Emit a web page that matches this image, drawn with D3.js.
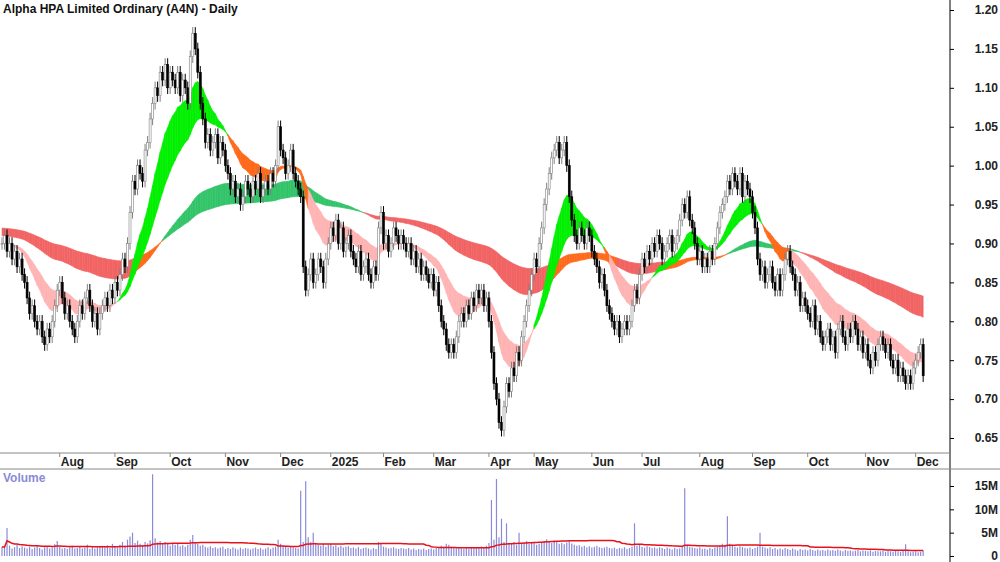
<!DOCTYPE html>
<html><head><meta charset="utf-8">
<script src="https://cdn.jsdelivr.net/npm/d3@7"></script>
<style>body{margin:0;background:#fff}svg{display:block;font-family:Arial,"Liberation Sans",sans-serif}</style>
</head><body><svg id="c" width="1000" height="562"></svg>
<script>
// daily closes (A4N)
const closes = [
0.90,0.91,0.89,0.90,0.88,0.89,0.87,0.88,0.86,0.85,
0.83,0.81,0.82,0.80,0.79,0.80,0.78,0.77,0.79,0.78,
0.80,0.82,0.84,0.85,0.83,0.81,0.82,0.80,0.79,0.78,
0.80,0.82,0.81,0.83,0.84,0.82,0.80,0.81,0.79,0.81,
0.82,0.83,0.82,0.84,0.83,0.85,0.84,0.86,0.88,0.87,
0.90,0.94,0.98,0.97,1.00,0.99,0.98,1.02,1.03,1.06,
1.08,1.10,1.09,1.12,1.11,1.13,1.10,1.12,1.11,1.10,
1.12,1.09,1.11,1.10,1.08,1.14,1.17,1.15,1.12,1.08,
1.06,1.03,1.04,1.02,1.03,1.04,1.01,1.03,1.02,1.00,
0.99,0.97,0.98,0.96,0.97,0.95,0.96,0.98,0.97,0.96,
0.98,0.97,0.99,0.96,0.97,0.98,0.97,0.99,0.98,1.00,
1.05,1.02,1.01,0.99,1.00,1.02,0.99,0.98,0.97,0.96,
0.87,0.84,0.86,0.88,0.85,0.86,0.88,0.87,0.85,0.88,
0.90,0.92,0.91,0.93,0.90,0.92,0.89,0.90,0.91,0.89,
0.88,0.87,0.89,0.86,0.87,0.88,0.86,0.85,0.87,0.86,
0.92,0.94,0.90,0.91,0.89,0.90,0.92,0.91,0.90,0.91,
0.90,0.89,0.90,0.88,0.89,0.87,0.88,0.86,0.87,0.86,
0.85,0.86,0.84,0.85,0.82,0.80,0.79,0.77,0.76,0.77,
0.76,0.78,0.80,0.81,0.80,0.82,0.81,0.83,0.82,0.84,
0.83,0.84,0.82,0.83,0.80,0.76,0.72,0.70,0.67,0.66,
0.69,0.72,0.71,0.74,0.73,0.76,0.75,0.78,0.80,0.82,
0.84,0.86,0.88,0.87,0.90,0.92,0.95,0.97,0.99,1.01,
1.02,1.03,1.01,1.02,1.03,1.00,0.96,0.93,0.91,0.90,
0.92,0.91,0.90,0.92,0.91,0.89,0.88,0.87,0.85,0.86,
0.84,0.82,0.81,0.80,0.79,0.80,0.78,0.79,0.80,0.79,
0.80,0.82,0.84,0.83,0.86,0.88,0.87,0.89,0.88,0.90,
0.89,0.91,0.90,0.88,0.89,0.90,0.91,0.89,0.90,0.91,
0.93,0.95,0.94,0.96,0.93,0.92,0.90,0.88,0.89,0.87,
0.88,0.87,0.89,0.88,0.90,0.92,0.94,0.95,0.96,0.98,
0.97,0.99,0.98,0.97,0.99,0.96,0.98,0.97,0.96,0.94,
0.92,0.88,0.86,0.87,0.85,0.86,0.87,0.85,0.84,0.86,
0.84,0.86,0.88,0.89,0.87,0.86,0.84,0.85,0.82,0.83,
0.82,0.81,0.80,0.82,0.79,0.80,0.78,0.77,0.78,0.79,
0.77,0.78,0.76,0.79,0.80,0.78,0.77,0.79,0.78,0.80,
0.79,0.77,0.78,0.76,0.77,0.75,0.74,0.76,0.75,0.77,
0.78,0.77,0.76,0.77,0.75,0.74,0.75,0.73,0.74,0.73,
0.72,0.73,0.72,0.74,0.75,0.76,0.77,0.73];

// daily volume, millions
const volumes = [
2.0,1.8,6.0,2.2,1.6,1.9,2.4,1.7,2.1,1.8, 1.6,2.0,1.5,1.8,2.3,1.7,1.4,1.9,2.0,1.6,
1.8,2.5,3.2,2.0,1.6,1.7,1.5,1.9,2.2,1.6, 1.7,2.1,1.6,1.8,2.4,1.5,1.9,1.6,1.8,2.0,
2.2,1.9,2.3,1.7,2.6,2.0,1.8,2.4,3.0,2.2, 3.5,4.2,5.0,2.8,3.3,2.6,2.4,3.0,2.7,3.4,
17.5,3.8,2.9,3.2,2.5,3.0,2.6,2.2,2.8,2.4, 2.6,2.1,2.3,2.0,2.4,3.5,4.5,3.0,2.6,2.2,
2.4,2.0,1.8,2.1,1.7,1.9,1.6,1.8,2.0,1.5, 1.7,1.5,1.9,1.6,1.4,1.8,1.5,1.7,1.6,1.4,
1.6,1.8,1.5,1.7,1.4,1.6,1.9,1.5,1.8,2.0, 3.5,2.6,2.2,2.0,1.8,2.1,1.9,1.7,1.6,14.0,
3.0,16.0,4.0,3.0,5.0,2.8,2.4,2.2,2.6,2.0, 2.4,2.6,2.1,2.3,1.9,2.2,1.8,2.0,2.1,1.7,
1.8,1.6,1.9,1.5,1.7,1.8,1.6,1.4,1.7,1.5, 3.0,2.6,2.0,1.8,1.6,1.7,1.9,1.6,1.5,1.7,
1.6,1.5,1.7,1.4,1.6,1.3,1.5,1.4,1.6,1.3, 1.5,1.6,1.4,1.7,1.9,2.2,2.0,2.6,2.4,2.0,
1.9,1.7,1.8,1.6,1.5,1.8,1.6,1.7,1.9,1.8, 1.7,2.0,1.8,2.2,2.8,12.0,3.5,16.5,4.0,8.0,
3.0,7.0,2.8,2.6,3.0,2.4,5.0,2.6,2.8,3.2, 2.6,3.0,2.8,2.4,2.6,2.9,3.2,3.6,3.0,2.8,
3.4,3.0,2.6,2.8,2.5,2.9,3.2,2.7,2.4,2.2, 2.3,2.0,2.2,1.9,2.1,1.8,2.0,2.2,1.9,1.7,
1.8,2.0,1.7,1.6,1.8,1.5,1.7,1.6,1.9,1.5, 1.7,2.0,7.0,2.2,2.5,2.0,1.8,2.1,1.9,1.7,
1.8,1.6,1.9,1.7,1.5,1.8,1.6,1.4,1.7,1.5, 1.6,2.0,14.5,2.4,2.0,1.8,1.7,1.6,1.9,1.5,
1.6,1.4,1.7,1.5,1.8,2.0,2.2,2.6,2.4,8.5, 2.6,2.2,2.0,1.8,2.1,1.9,1.7,1.6,1.8,1.5,
1.7,2.0,5.0,2.0,1.8,1.6,1.9,1.5,1.7,1.4, 1.6,1.4,1.7,1.5,1.3,1.6,1.4,1.2,1.5,1.3,
1.4,1.2,1.5,1.3,1.1,1.4,1.2,1.3,1.1,1.4, 1.2,1.3,1.1,1.4,1.2,1.0,1.3,1.1,1.2,1.0,
1.1,1.3,1.0,1.2,1.1,1.0,1.2,0.9,1.1,1.0, 1.0,1.2,0.9,1.1,1.0,0.9,1.1,1.0,0.9,1.1,
2.5,1.0,0.8,0.9,1.0,0.8,0.9,1.2];

const monthLabels = ["Aug","Sep","Oct","Nov","Dec","2025","Feb","Mar","Apr","May","Jun","Jul","Aug","Sep","Oct","Nov","Dec"];
const monthIdx    = [23,45,67,89,111,131,152,172,194,212,235,255,278,299,321,344,364];
const priceTicks  = [0.65,0.70,0.75,0.80,0.85,0.90,0.95,1.00,1.05,1.10,1.15,1.20];
const volTicks    = [0,5,10,15];

const svg = d3.select("#c");
const W = 950, N = closes.length;
const x = d3.scaleLinear().domain([0, N - 1]).range([2, 2 + (N - 1) * 2.51]);
const y = d3.scaleLinear().domain([0.65, 1.20]).range([438, 10]);
const yv = d3.scaleLinear().domain([0, 15]).range([556, 486]);

function ema(arr, n, seed) {
  const k = 2 / (n + 1); let out = [], e = seed;
  arr.forEach(v => { e = v * k + e * (1 - k); out.push(e); });
  return out;
}
const f1 = ema(closes, 15, 0.90), f2 = ema(closes, 30, 0.90);
const s1 = ema(closes, 90, 0.91), s2 = ema(closes, 160, 0.92);

function bandSegs(a, b, colorFn) {
  for (let i = 0; i < N - 1; i++) {
    const pts = [[x(i), y(a[i])], [x(i + 1), y(a[i + 1])], [x(i + 1), y(b[i + 1])], [x(i), y(b[i])]];
    svg.append("path").attr("d", "M" + pts.join("L") + "Z")
      .attr("fill", colorFn(i)).attr("stroke", colorFn(i)).attr("stroke-width", 0.6);
  }
}
bandSegs(s1, s2, i => s1[i] > s2[i] ? "#33c46a" : (f2[i] > s1[i] ? "#ff6a1a" : "#f26464"));
bandSegs(f1, f2, i => f1[i] > f2[i] ? "#00f000" : (f2[i] > Math.max(s1[i], s2[i]) ? "#ff6a1a" : "#ffb4b4"));

// candles
const g = svg.append("g");
closes.forEach((c, i) => {
  const o = i ? closes[i - 1] : c, up = c >= o;
  const hi = Math.max(o, c) + 0.008, lo = Math.min(o, c) - 0.008;
  const col = up ? "#808080" : "#000";
  g.append("line").attr("x1", x(i)).attr("x2", x(i)).attr("y1", y(hi)).attr("y2", y(lo)).attr("stroke", col).attr("stroke-width", 1);
  const top = y(Math.max(o, c)), h = Math.max(1, y(Math.min(o, c)) - top);
  g.append("rect").attr("x", x(i) - 1).attr("y", top).attr("width", 2).attr("height", h)
    .attr("fill", up ? "#fff" : "#000").attr("stroke", col).attr("stroke-width", 0.6);
});

// volume
volumes.forEach((v, i) => {
  svg.append("line").attr("x1", x(i)).attr("x2", x(i)).attr("y1", yv(0)).attr("y2", yv(v))
    .attr("stroke", "#8a8ad8").attr("stroke-width", 1.2);
});
const vma = volumes.map((v, i) => d3.mean(volumes.slice(Math.max(0, i - 49), i + 1)));
svg.append("path").datum(vma).attr("fill", "none").attr("stroke", "#e8101a").attr("stroke-width", 1.5)
  .attr("d", d3.line().x((d, i) => x(i)).y(d => yv(d)));

svg.append("line").attr("x1", W).attr("x2", W).attr("y1", 0).attr("y2", 562).attr("stroke", "#000");
svg.append("line").attr("x1", 0).attr("x2", W).attr("y1", 453).attr("y2", 453).attr("stroke", "#888");
svg.append("line").attr("x1", 0).attr("x2", 1000).attr("y1", 469).attr("y2", 469).attr("stroke", "#888");

const pa = svg.append("g").attr("transform", `translate(${W},0)`)
  .call(d3.axisRight(y).tickValues(priceTicks).tickFormat(d3.format(".2f")).tickSize(4).tickPadding(20));
const va = svg.append("g").attr("transform", `translate(${W},0)`)
  .call(d3.axisRight(yv).tickValues(volTicks).tickFormat(d => d ? d + "M" : "0").tickSize(4).tickPadding(20));
[pa, va].forEach(a => {
  a.select(".domain").remove();
  a.selectAll("text").attr("font-size", 12).attr("font-weight", "bold").attr("fill", "#222").attr("text-anchor", "end").attr("dx", 24);
});

const ma = svg.append("g");
monthIdx.forEach((m, k) => {
  ma.append("line").attr("x1", x(m)).attr("x2", x(m)).attr("y1", 453).attr("y2", 457).attr("stroke", "#888");
  ma.append("text").attr("x", x(m) + 1).attr("y", 466).text(monthLabels[k])
    .attr("font-size", 12).attr("font-weight", "bold").attr("fill", "#222");
});

svg.append("text").attr("x", 3).attr("y", 13).text("Alpha HPA Limited Ordinary (A4N) - Daily")
  .attr("font-size", 12).attr("font-weight", "bold").attr("fill", "#111");
svg.append("text").attr("x", 3).attr("y", 482).text("Volume")
  .attr("font-size", 12).attr("font-weight", "bold").attr("fill", "#8a8ad8");
</script></body></html>
